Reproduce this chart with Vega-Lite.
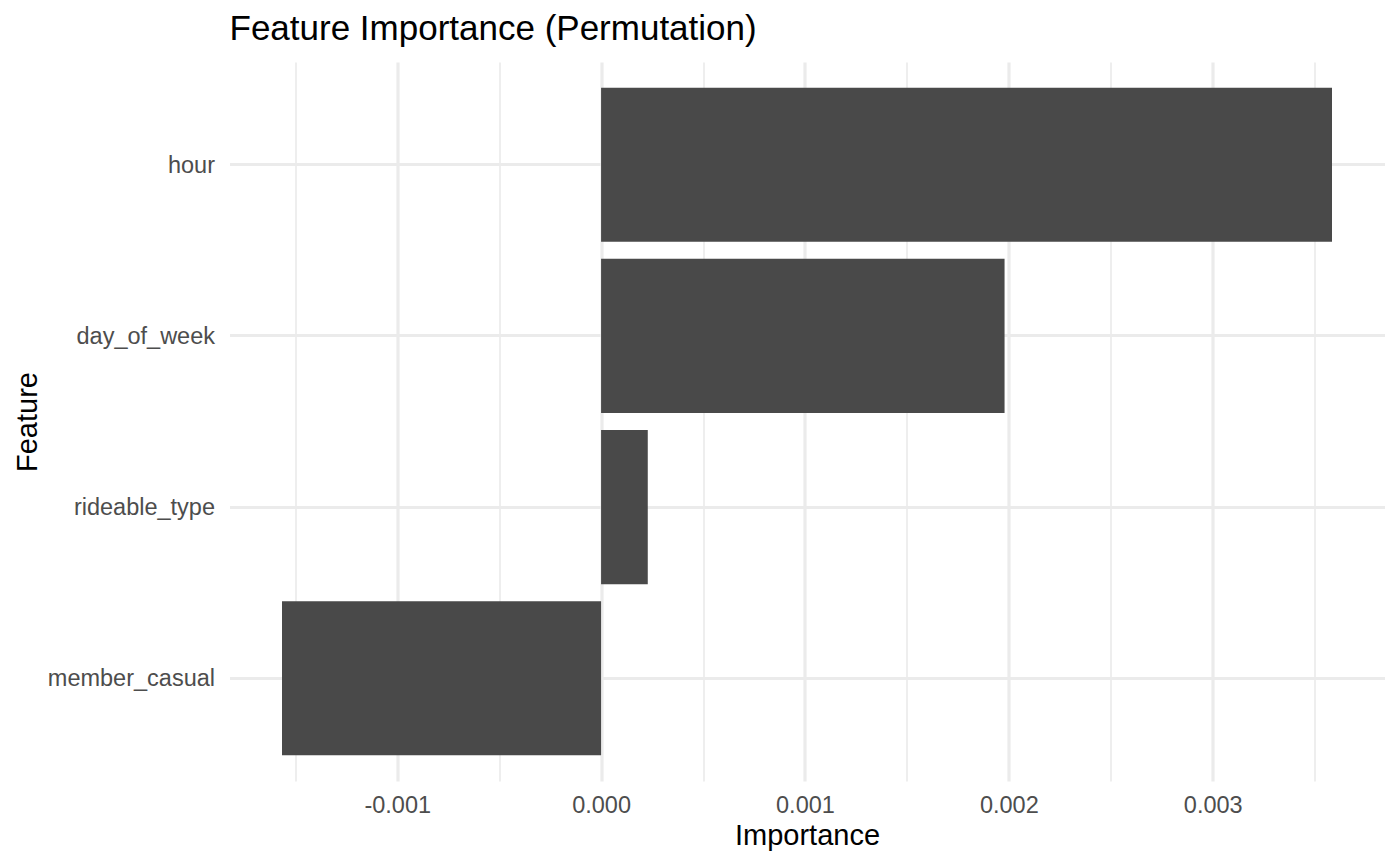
{
  "$schema": "https://vega.github.io/schema/vega-lite/v6.json",
  "width": 1155,
  "height": 719,
  "autosize": {"type": "none"},
  "padding": {"left": 229.5, "top": 62, "right": 15.5, "bottom": 84},
  "background": "white",
  "config": {
    "view": {"stroke": null},
    "font": "Liberation Sans",
    "axis": {"domain": false, "ticks": false}
  },
  "title": {
    "text": "Feature Importance (Permutation)",
    "anchor": "start",
    "frame": "group",
    "fontSize": 35,
    "fontWeight": "normal",
    "color": "#000000",
    "font": "Liberation Sans",
    "baseline": "alphabetic",
    "offset": -13
  },
  "data": {
    "values": [
      {"Feature": "hour", "Importance": 0.003585},
      {"Feature": "day_of_week", "Importance": 0.001979},
      {"Feature": "rideable_type", "Importance": 0.000229},
      {"Feature": "member_casual", "Importance": -0.001565}
    ]
  },
  "resolve": {"axis": {"x": "independent"}},
  "layer": [
    {
      "mark": {"type": "bar", "opacity": 0},
      "encoding": {
        "x": {
          "field": "Importance",
          "type": "quantitative",
          "scale": {"domain": [-0.0018225, 0.0038425], "nice": false, "zero": false},
          "axis": {
            "orient": "bottom",
            "values": [-0.0015, -0.0005, 0.0005, 0.0015, 0.0025, 0.0035],
            "labels": false,
            "title": null,
            "grid": true,
            "gridColor": "#EBEBEB",
            "gridWidth": 1.7
          }
        },
        "y": {
          "field": "Feature",
          "type": "nominal",
          "sort": ["hour", "day_of_week", "rideable_type", "member_casual"],
          "scale": {"paddingInner": 0.1, "paddingOuter": 0.15},
          "title": "Feature",
          "axis": {
            "grid": true,
            "gridColor": "#EBEBEB",
            "gridWidth": 3.2,
            "labelFontSize": 23.5,
            "labelColor": "#4D4D4D",
            "labelPadding": 15,
            "labelFont": "Liberation Sans",
            "labelBaseline": "middle",
            "labelOffset": 1,
            "titleFontSize": 29,
            "titleFontWeight": "normal",
            "titleColor": "#000000",
            "titleFont": "Liberation Sans",
            "titleAngle": -90,
            "titleBaseline": "alphabetic",
            "titleAlign": "center",
            "titleX": -193,
            "titleY": 359.5
          }
        }
      }
    },
    {
      "mark": {"type": "bar", "color": "#494949"},
      "encoding": {
        "x": {
          "field": "Importance",
          "type": "quantitative",
          "title": "Importance",
          "axis": {
            "orient": "bottom",
            "values": [-0.001, 0, 0.001, 0.002, 0.003],
            "labelExpr": "replace(format(datum.value, '.3f'), '\u2212', '-')",
            "grid": true,
            "gridColor": "#EBEBEB",
            "gridWidth": 3.2,
            "labelFontSize": 23.5,
            "labelColor": "#4D4D4D",
            "labelPadding": 12,
            "labelFont": "Liberation Sans",
            "titleFontSize": 29,
            "titleFontWeight": "normal",
            "titleColor": "#000000",
            "titleFont": "Liberation Sans",
            "titleBaseline": "alphabetic",
            "titleY": 63
          }
        },
        "y": {
          "field": "Feature",
          "type": "nominal",
          "sort": ["hour", "day_of_week", "rideable_type", "member_casual"],
          "title": "Feature"
        }
      }
    }
  ]
}
